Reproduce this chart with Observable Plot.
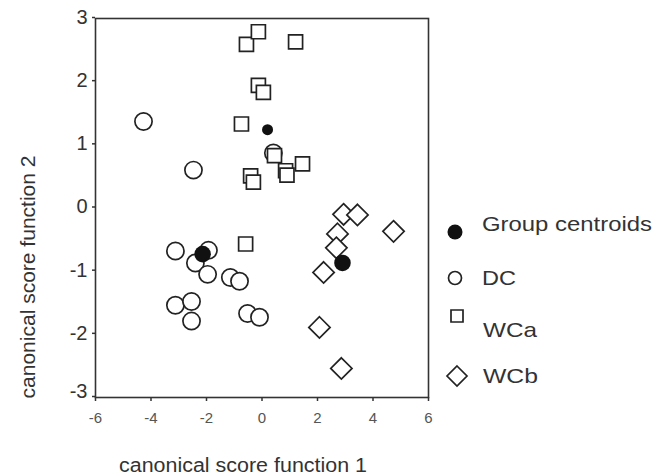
<!DOCTYPE html>
<html>
<head>
<meta charset="utf-8">
<script src="https://cdn.jsdelivr.net/npm/d3@7"></script>
<script src="https://cdn.jsdelivr.net/npm/@observablehq/plot@0.6"></script>
<style>
  html, body { margin: 0; padding: 0; background: #fff; }
  #chart svg { display: block; }
</style>
</head>
<body>
<div id="chart"></div>
<script>
// Canonical discriminant scores per group
const dcX = [-4.27, -2.47, 0.41, -3.12, -1.93, -2.40, -1.96, -1.14, -0.81, -3.12, -2.54, -2.54, -0.52, -0.09];
const dcY = [1.37, 0.60, 0.87, -0.68, -0.67, -0.87, -1.05, -1.10, -1.16, -1.54, -1.48, -1.79, -1.67, -1.73];

const wcaX = [-0.56, -0.13, 1.21, -0.13, 0.05, -0.74, 0.45, 1.46, 0.85, 0.90, -0.41, -0.31, -0.59];
const wcaY = [2.59, 2.79, 2.63, 1.94, 1.83, 1.33, 0.83, 0.70, 0.59, 0.52, 0.51, 0.41, -0.57];

const wcbX = [2.94, 3.44, 4.74, 2.72, 2.68, 2.22, 2.07, 2.86];
const wcbY = [-0.10, -0.11, -0.37, -0.41, -0.63, -1.02, -1.89, -2.54];

// Group centroids: DC, WCa, WCb
const centroidX = [-2.14, 0.20, 2.90];
const centroidY = [-0.73, 1.24, -0.87];

const xTicks = [-6, -4, -2, 0, 2, 4, 6];
const yTicks = [-3, -2, -1, 0, 1, 2, 3];
const legendLabels = ["Group centroids", "DC", "WCa", "WCb"];
const xTitle = "canonical score function 1";
const yTitle = "canonical score function 2";

const toPoints = (xs, ys) => xs.map((x, i) => ({x, y: ys[i]}));
const dc = toPoints(dcX, dcY);
const wca = toPoints(wcaX, wcaY);
const wcb = toPoints(wcbX, wcbY);
const centroids = toPoints(centroidX, centroidY);

const W = 654, H = 476;
const FONT = "'Liberation Sans', Arial, Helvetica, sans-serif";
const INK = "#222";

const chart = Plot.plot({
  width: W,
  height: H,
  marginLeft: 95,
  marginRight: 226,
  marginTop: 18,
  marginBottom: 79,
  x: {domain: [-6, 6]},
  y: {domain: [-3, 3]},
  r: {type: "identity"},
  style: {fontFamily: FONT, background: "#fff", overflow: "visible"},
  marks: [
    Plot.axisX({ticks: xTicks, tickSize: 4, tickPadding: 11, fontSize: 15, label: null,
                tickFormat: d => String(d), stroke: "#333", strokeWidth: 1.5}),
    Plot.axisY({ticks: yTicks, tickSize: 3, tickPadding: 5, fontSize: 20, label: null, dy: -1,
                tickFormat: d => String(d), stroke: "#333", strokeWidth: 1.5}),
    Plot.frame({stroke: "#333", strokeWidth: 1.6}),
    Plot.dot(dc, {x: "x", y: "y", symbol: "circle", r: 8.6, stroke: INK, strokeWidth: 1.7, fill: "#fff"}),
    Plot.dot(wca, {x: "x", y: "y", symbol: "square", r: 7.9, stroke: INK, strokeWidth: 1.7, fill: "#fff"}),
    Plot.dot(wcb, {x: "x", y: "y", symbol: "diamond2", r: 9.6, stroke: INK, strokeWidth: 1.7, fill: "#fff"}),
    // the WCa centroid is drawn smaller than the other two
    Plot.dot(centroids, {x: "x", y: "y", symbol: "circle", r: (d, i) => (i === 1 ? 5.5 : 8.3), fill: "#111", stroke: "none"})
  ]
});

document.getElementById("chart").appendChild(chart);

const svg = d3.select(chart);
svg.selectAll("g[aria-label='x-axis tick label']").attr("fill", "#555").attr("font-size", 15);
svg.selectAll("g[aria-label='y-axis tick label']").attr("fill", "#333").attr("font-size", 20);
// lift the lowest y label clear of the x-axis labels
svg.selectAll("g[aria-label='y-axis tick label'] text")
  .filter(function () { return this.textContent === "-3"; })
  .attr("dy", "-0.27em");

// Axis titles
const titles = svg.append("g")
  .attr("font-family", FONT).attr("fill", "#333").attr("font-size", 20).attr("text-anchor", "middle");
titles.append("text")
  .attr("x", 243).attr("y", 472)
  .attr("textLength", 248).attr("lengthAdjust", "spacingAndGlyphs")
  .text(xTitle);
titles.append("text")
  .attr("transform", "translate(35,277) rotate(-90)")
  .attr("textLength", 243).attr("lengthAdjust", "spacingAndGlyphs")
  .text(yTitle);

// Legend: symbol and label rows
const legendRows = [
  {sym: d3.symbolCircle, size: Math.PI * 7.5 * 7.5, fill: "#111", stroke: "none", sx: 455, sy: 232, tx: 482, ty: 231, len: 170},
  {sym: d3.symbolCircle, size: Math.PI * 6.5 * 6.5, fill: "#fff", stroke: INK, sx: 455, sy: 278, tx: 482, ty: 285, len: 34},
  {sym: d3.symbolSquare, size: 12 * 12, fill: "#fff", stroke: INK, sx: 457, sy: 316, tx: 483, ty: 337, len: 54},
  {sym: d3.symbolDiamond2, size: Math.pow(10 / 0.62625, 2), fill: "#fff", stroke: INK, sx: 457, sy: 376, tx: 483, ty: 383, len: 55}
];
const legend = svg.append("g")
  .attr("font-family", FONT).attr("font-size", 21).attr("fill", "#333").attr("text-anchor", "start");
legendRows.forEach((row, i) => {
  legend.append("path")
    .attr("transform", `translate(${row.sx},${row.sy})`)
    .attr("d", d3.symbol(row.sym, row.size)())
    .attr("fill", row.fill)
    .attr("stroke", row.stroke)
    .attr("stroke-width", 1.7);
  legend.append("text")
    .attr("x", row.tx).attr("y", row.ty)
    .attr("textLength", row.len).attr("lengthAdjust", "spacingAndGlyphs")
    .text(legendLabels[i]);
});
</script>
</body>
</html>
